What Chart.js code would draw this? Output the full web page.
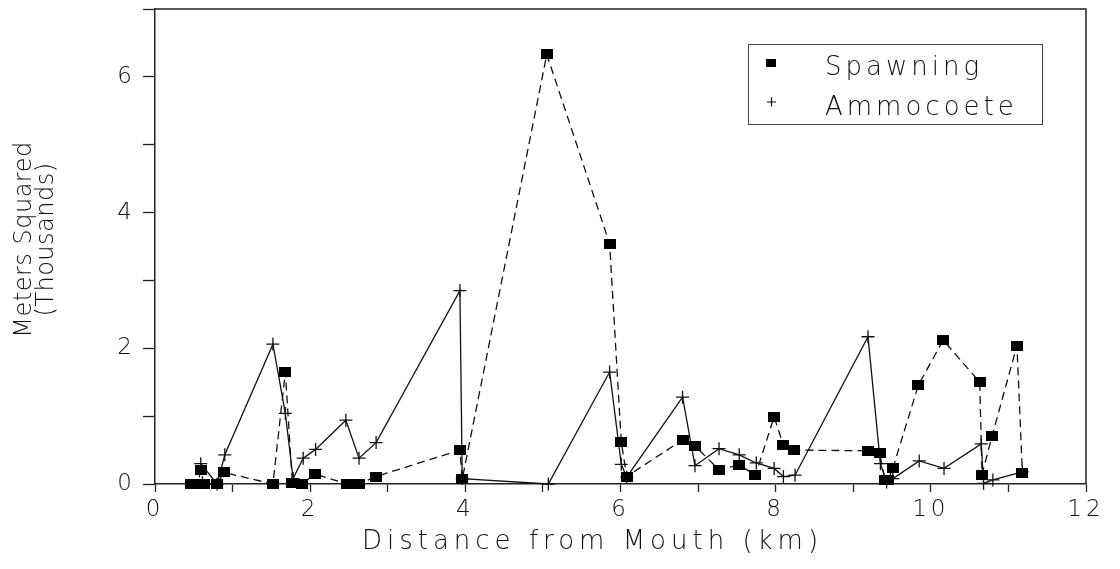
<!DOCTYPE html>
<html>
<head>
<meta charset="utf-8">
<script src="https://cdn.jsdelivr.net/npm/chart.js@4.4.1/dist/chart.umd.min.js"></script>
<style>
  html, body { margin: 0; padding: 0; background: #ffffff; }
  #wrap { width: 1120px; height: 569px; }
</style>
</head>
<body>
<div id="wrap"><canvas id="chart" width="1120" height="569"></canvas></div>
<script>
// Survey sites along the river (km from mouth) and areas in thousands of m²
const spawnKm = [0.47, 0.55, 0.59, 0.63, 0.80, 0.89, 1.52, 1.68, 1.77, 1.90, 2.06, 2.47, 2.63, 2.85,
                 3.93, 3.96, 5.05, 5.86, 6.01, 6.08, 6.80, 6.96, 7.27, 7.53, 7.74, 7.98, 8.10, 8.23,
                 9.19, 9.34, 9.41, 9.45, 9.51, 9.84, 10.16, 10.63, 10.66, 10.79, 11.11, 11.18];
const spawnArea = [0, 0, 0.20, 0, 0, 0.17, 0, 1.65, 0.02, 0, 0.15, 0, 0, 0.11,
                   0.50, 0.07, 6.33, 3.54, 0.62, 0.11, 0.65, 0.56, 0.21, 0.28, 0.13, 0.99, 0.57, 0.50,
                   0.49, 0.45, 0.06, 0.06, 0.23, 1.46, 2.12, 1.50, 0.14, 0.71, 2.04, 0.16];

const ammoKm = [0.59, 0.80, 0.90, 1.52, 1.68, 1.78, 1.91, 2.07, 2.46, 2.63, 2.85, 3.93, 3.96, 5.07,
                5.86, 6.01, 6.08, 6.80, 6.96, 7.27, 7.53, 7.75, 7.98, 8.10, 8.25, 9.19, 9.35, 9.43,
                9.51, 9.85, 10.17, 10.65, 10.68, 10.80, 11.18];
const ammoArea = [0.30, 0, 0.43, 2.06, 1.04, 0.08, 0.38, 0.51, 0.94, 0.38, 0.61, 2.85, 0.08, 0,
                  1.65, 0.29, 0.10, 1.28, 0.27, 0.52, 0.43, 0.31, 0.23, 0.11, 0.13, 2.17, 0.30, 0.03,
                  0.08, 0.34, 0.23, 0.59, 0.01, 0.06, 0.18];

const xLabelValues = [0, 2, 4, 6, 8, 10, 12];
const yLabelValues = [0, 2, 4, 6];
const seriesNames = ['Spawning', 'Ammocoete'];

const FONT = "'DejaVu Sans', sans-serif";
const INK = '#111111';

// solid block used as the spawning marker
function blockMarker(w, h) {
  const c = document.createElement('canvas');
  c.width = w; c.height = h;
  const g = c.getContext('2d');
  g.fillStyle = '#000';
  g.fillRect(0, 0, w, h);
  return c;
}

// wide-set lettering for tick labels and axis titles
const lettering = {
  x: { ticks: '4px', title: '5px', shiftX: -28, shiftY: 0 },
  y: { ticks: '0px', title: '0.5px', shiftX: 0, shiftY: -7 }
};

const spacedText = {
  id: 'spacedText',
  beforeDraw(chart) {
    for (const id of ['x', 'y']) {
      const s = chart.scales[id];
      if (!s || s._spaced) continue;
      s._spaced = true;
      const dl = s.drawLabels, dt = s.drawTitle;
      s.drawLabels = function (a) {
        const c = this.ctx; c.save(); c.letterSpacing = lettering[id].ticks; dl.call(this, a); c.restore();
      };
      s.drawTitle = function (a) {
        const c = this.ctx; c.save(); c.letterSpacing = lettering[id].title;
        c.translate(lettering[id].shiftX, lettering[id].shiftY);
        dt.call(this, a); c.restore();
      };
    }
  }
};

// top/right frame lines and the boxed legend
const frameAndKey = {
  id: 'frameAndKey',
  afterDraw(chart) {
    const { ctx, chartArea: a } = chart;
    ctx.save();
    ctx.strokeStyle = '#222';
    ctx.lineWidth = 1.5;
    ctx.beginPath();
    ctx.moveTo(a.left, a.top);
    ctx.lineTo(a.right, a.top);
    ctx.lineTo(a.right, a.bottom);
    ctx.stroke();

    // legend box
    ctx.lineWidth = 1;
    ctx.strokeStyle = '#444';
    ctx.strokeRect(748.5, 44.5, 294, 80);
    // spawning marker
    ctx.fillStyle = '#000';
    ctx.fillRect(766, 59, 10, 8);
    // ammocoete marker
    ctx.lineWidth = 1.2;
    ctx.strokeStyle = '#111';
    ctx.beginPath();
    ctx.moveTo(767, 102); ctx.lineTo(776, 102);
    ctx.moveTo(771.5, 97.5); ctx.lineTo(771.5, 106.5);
    ctx.stroke();

    ctx.fillStyle = INK;
    ctx.font = '200 26px ' + FONT;
    ctx.letterSpacing = '4px';
    ctx.textAlign = 'left';
    ctx.textBaseline = 'alphabetic';
    ctx.fillText(seriesNames[0], 825, 75);
    ctx.fillText(seriesNames[1], 825, 115);
    ctx.restore();
  }
};

new Chart(document.getElementById('chart'), {
  type: 'line',
  data: {
    datasets: [
      {
        label: seriesNames[0],
        data: spawnKm.map((x, i) => ({ x, y: spawnArea[i] })),
        borderColor: INK,
        backgroundColor: '#000',
        borderWidth: 1.3,
        borderDash: [8, 5],
        pointStyle: blockMarker(12, 10),
        pointRadius: 6,
        tension: 0,
        fill: false,
        clip: false
      },
      {
        label: seriesNames[1],
        data: ammoKm.map((x, i) => ({ x, y: ammoArea[i] })),
        borderColor: INK,
        backgroundColor: INK,
        borderWidth: 1.3,
        pointStyle: 'cross',
        pointRadius: 6.5,
        pointBorderWidth: 1.3,
        pointBorderColor: INK,
        tension: 0,
        fill: false,
        clip: false
      }
    ]
  },
  options: {
    responsive: false,
    devicePixelRatio: 1,
    animation: false,
    layout: { padding: { top: 9, right: 34, left: 0, bottom: 0 } },
    plugins: {
      legend: { display: false },
      tooltip: { enabled: false }
    },
    scales: {
      x: {
        type: 'linear',
        min: 0,
        max: 12,
        afterFit(s) { s.height = 85; s.paddingLeft = 0; s.paddingRight = 0; },
        ticks: {
          stepSize: 1,
          autoSkip: false,
          maxRotation: 0,
          padding: 4,
          color: INK,
          font: { family: FONT, size: 23, weight: '200' },
          callback: v => (xLabelValues.includes(v) ? String(v) : '')
        },
        grid: { drawOnChartArea: false, drawTicks: true, tickLength: 8, tickWidth: 1.3, tickColor: '#222' },
        border: { display: true, color: '#222', width: 1.5 },
        title: {
          display: true,
          text: 'Distance from Mouth (km)',
          color: INK,
          font: { family: FONT, size: 26, weight: '200', lineHeight: 1.2 },
          padding: { top: 0, bottom: 11 }
        }
      },
      y: {
        type: 'linear',
        min: 0,
        max: 7,
        afterFit(s) { s.width = 155; s.paddingTop = 0; s.paddingBottom = 0; },
        ticks: {
          stepSize: 1,
          autoSkip: false,
          padding: 11,
          color: INK,
          font: { family: FONT, size: 23, weight: '200' },
          callback: v => (yLabelValues.includes(v) ? String(v) : '')
        },
        grid: { drawOnChartArea: false, drawTicks: true, tickLength: 12, tickWidth: 1.3, tickColor: '#222' },
        border: { display: true, color: '#222', width: 1.5 },
        title: {
          display: true,
          text: ['Meters Squared', '(Thousands)'],
          color: INK,
          font: { family: FONT, size: 24, weight: '200', lineHeight: 0.92 },
          padding: { top: 14, bottom: 0 }
        }
      }
    }
  },
  plugins: [spacedText, frameAndKey]
});
</script>
</body>
</html>
